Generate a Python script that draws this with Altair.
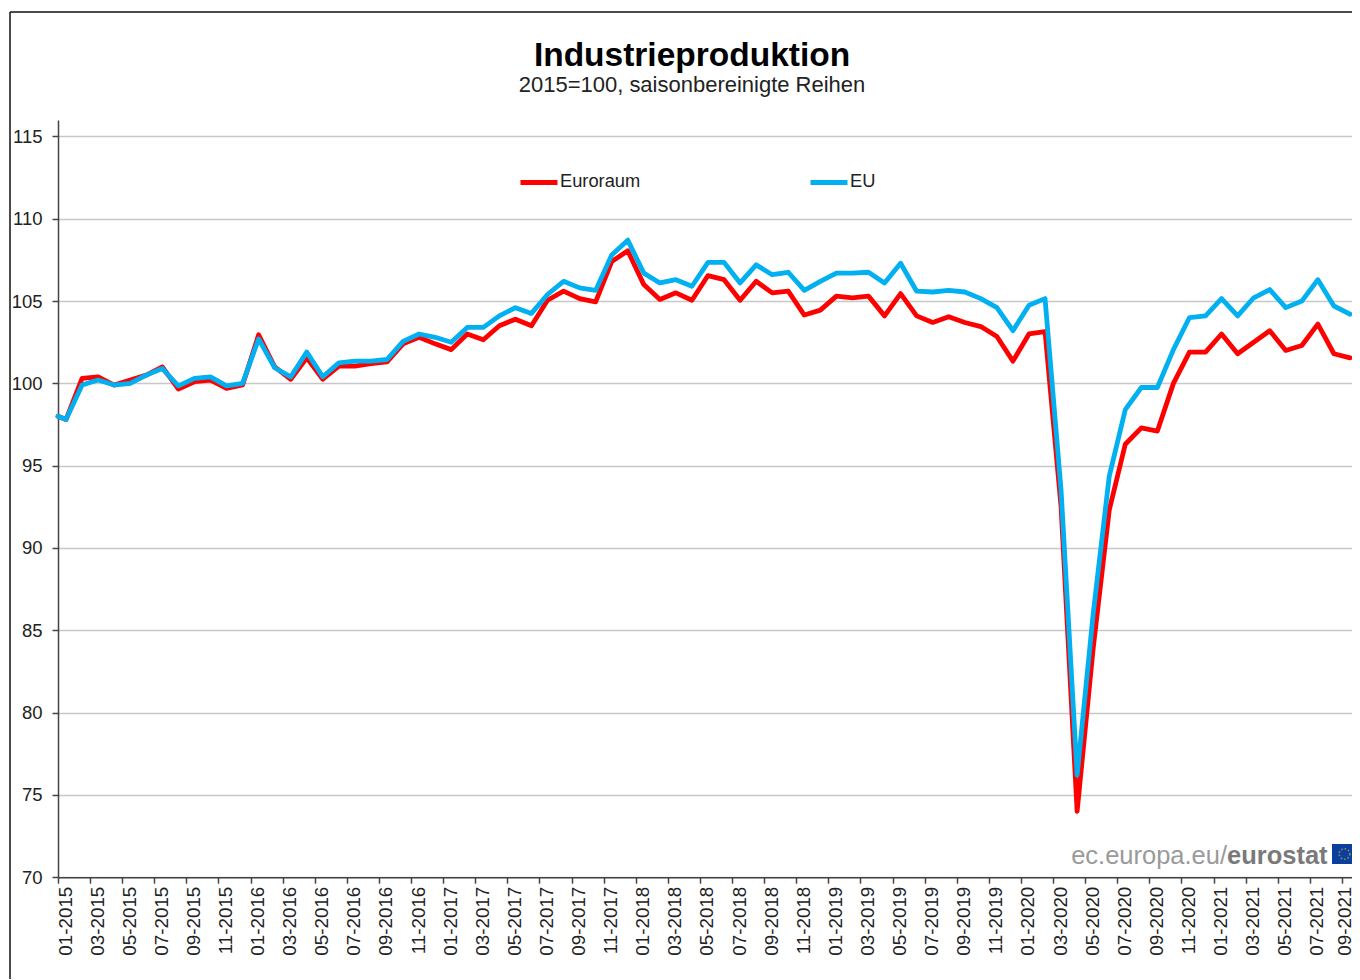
import altair as alt
import pandas as pd

FONT = "Liberation Sans"
TEXT = "#222222"

# month labels on the axis (every second month, at the left edge of that month's slot)
tick_labels = [
    "01-2015","03-2015","05-2015","07-2015","09-2015","11-2015",
    "01-2016","03-2016","05-2016","07-2016","09-2016","11-2016",
    "01-2017","03-2017","05-2017","07-2017","09-2017","11-2017",
    "01-2018","03-2018","05-2018","07-2018","09-2018","11-2018",
    "01-2019","03-2019","05-2019","07-2019","09-2019","11-2019",
    "01-2020","03-2020","05-2020","07-2020","09-2020","11-2020",
    "01-2021","03-2021","05-2021","07-2021","09-2021",
]

# the line starts on the axis (half a slot before the first month), then one value per month
euroraum = [
    98.0,
    97.8,100.3,100.4,99.9,100.2,100.5,101.0,99.65,100.1,100.2,99.7,99.9,
    102.95,101.0,100.25,101.55,100.25,101.05,101.05,101.2,101.3,102.4,102.8,102.4,
    102.05,103.0,102.65,103.5,103.9,103.5,105.05,105.6,105.15,104.95,107.4,108.05,
    106.0,105.1,105.5,105.05,106.55,106.3,105.05,106.2,105.5,105.6,104.15,104.45,
    105.3,105.2,105.3,104.1,105.45,104.1,103.7,104.05,103.7,103.45,102.85,101.35,
    103.0,103.15,92.5,74.0,83.9,92.3,96.3,97.3,97.1,100.0,101.9,101.9,
    103.0,101.8,102.5,103.2,102.0,102.3,103.6,101.8,101.55,
]
eu = [
    98.0,
    97.8,99.9,100.2,99.9,100.0,100.5,100.9,99.85,100.3,100.4,99.85,100.0,
    102.7,100.95,100.4,101.9,100.4,101.25,101.35,101.35,101.45,102.55,103.0,102.8,
    102.5,103.4,103.4,104.1,104.6,104.25,105.4,106.2,105.8,105.65,107.8,108.7,
    106.7,106.1,106.3,105.9,107.35,107.35,106.1,107.2,106.6,106.75,105.65,106.2,
    106.7,106.7,106.75,106.1,107.3,105.6,105.55,105.65,105.55,105.15,104.6,103.2,
    104.75,105.15,93.5,76.2,86.0,94.35,98.4,99.75,99.75,102.05,104.0,104.1,
    105.15,104.1,105.2,105.7,104.6,105.0,106.3,104.7,104.2,
]
y_ticks = [70, 75, 80, 85, 90, 95, 100, 105, 110, 115]
series_names = ["Euroraum", "EU"]
series_colors = ["#ff0000", "#00b0f0"]

positions = [-0.5] + list(range(len(euroraum) - 1))
tick_positions = [2 * i - 0.5 for i in range(len(tick_labels))]

df = pd.concat([
    pd.DataFrame({"pos": positions, "wert": euroraum, "reihe": "Euroraum"}),
    pd.DataFrame({"pos": positions, "wert": eu, "reihe": "EU"}),
])

label_array = "[" + ",".join(f"'{t}'" for t in tick_labels) + "]"

lines = alt.Chart(df).mark_line(strokeWidth=4.8, strokeJoin="round", strokeCap="round", clip=False).encode(
    x=alt.X("pos:Q",
            scale=alt.Scale(domain=[-0.5, 80.126], nice=False, zero=False),
            axis=alt.Axis(values=tick_positions, title=None, grid=False,
                          labelExpr=label_array + "[round((datum.value+0.5)/2)]",
                          labelAngle=270, labelAlign="right", labelBaseline="middle",
                          labelOffset={"condition": {"test": "datum.value > 79", "value": 3}, "value": 7},
                          labelPadding=3, labelOverlap=False,
                          labelBound=False, labelFlush=False,
                          labelFont=FONT, labelFontSize=18.8, labelColor=TEXT,
                          tickSize=6, tickColor="#444444", tickWidth=1.5,
                          domainColor="#444444", domainWidth=1.5)),
    y=alt.Y("wert:Q",
            scale=alt.Scale(domain=[70, 116], nice=False, zero=False),
            axis=alt.Axis(values=y_ticks, title=None, grid=True,
                          gridColor="#c8c8c8", gridWidth=1.4,
                          labelFont=FONT, labelFontSize=18.5, labelColor=TEXT,
                          labelPadding=10,
                          tickSize=6, tickColor="#444444", tickWidth=1.5,
                          domainColor="#444444", domainWidth=1.5)),
    color=alt.Color("reihe:N",
                    scale=alt.Scale(domain=series_names, range=series_colors),
                    legend=alt.Legend(orient="none", legendX=460, legendY=41.5, title=None,
                                      columns=2, columnPadding=159, symbolType="stroke",
                                      symbolSize=1369, symbolStrokeWidth=5,
                                      labelFont=FONT, labelFontSize=18.3, labelColor=TEXT,
                                      labelOffset=0)),
    order=alt.Order("pos:Q"),
)

blank = alt.Chart({"values": [{}]})
frame_top = blank.mark_rule(color="#111111", strokeWidth=1.5).encode(
    x=alt.value(-48), x2=alt.value(1302), y=alt.value(-108))
frame_left = blank.mark_rule(color="#111111", strokeWidth=1.5).encode(
    x=alt.value(-48), y=alt.value(-108), y2=alt.value(861))

wm1 = blank.mark_text(text="ec.europa.eu/", font=FONT, fontSize=25.5, color="#9a9a9a",
                      align="right", baseline="alphabetic").encode(
    x=alt.value(1169), y=alt.value(744))
wm2 = blank.mark_text(text="eurostat", font=FONT, fontSize=25.5, fontWeight="bold", color="#7a7a7a",
                      align="left", baseline="alphabetic").encode(
    x=alt.value(1169), y=alt.value(744))
flag = blank.mark_rect(color="#0b3f9e").encode(
    x=alt.value(1274), x2=alt.value(1299), y=alt.value(724), y2=alt.value(744))
stars = blank.mark_point(shape="circle", filled=False, stroke="#c9b037", strokeWidth=1.6,
                         strokeDash=[1.5, 2], size=113).encode(
    x=alt.value(1286.5), y=alt.value(734))

chart = alt.layer(frame_top, frame_left, lines, wm1, wm2, flag, stars).properties(
    width=1294,
    height=757.2,
    padding={"left": 50, "top": 112, "right": 0, "bottom": 102},
    autosize=alt.AutoSizeParams(type="none"),
    background="white",
    title=alt.TitleParams(
        text="Industrieproduktion",
        subtitle="2015=100, saisonbereinigte Reihen",
        anchor="middle", dx=-13, offset=-86,
        font=FONT, fontSize=33.5, fontWeight="bold", color="#000000",
        subtitleFont=FONT, subtitleFontSize=22, subtitleColor=TEXT, subtitlePadding=2,
    ),
).configure_view(stroke=None)

chart.save("out.html", embed_options={"renderer": "svg", "actions": False})
